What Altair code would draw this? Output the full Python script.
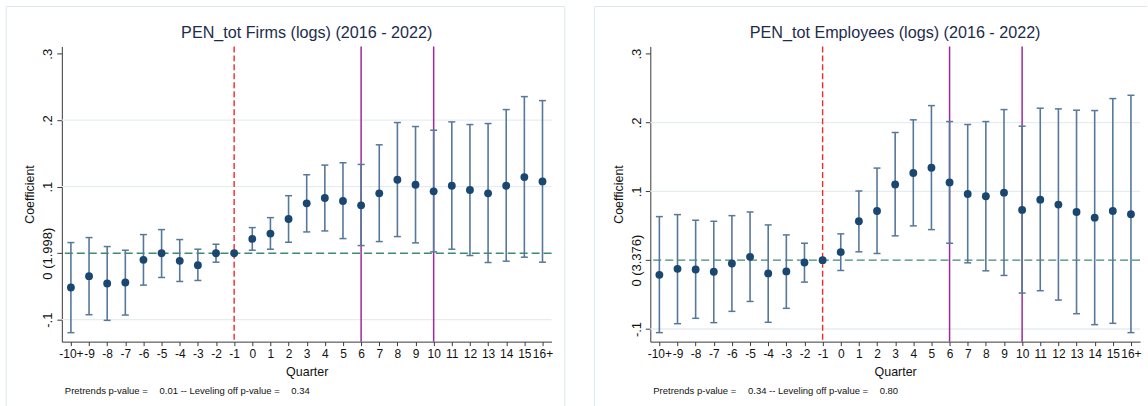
import json

import altair as alt
import pandas as pd

FONT = "'Liberation Sans', Arial, sans-serif"

# ---- data -------------------------------------------------------------
quarters = list(range(-10, 17))
quarter_labels = ["-10+"] + [str(q) for q in range(-9, 16)] + ["16+"]
y_ticks = [-0.1, 0.0, 0.1, 0.2, 0.3]
grid_values = [-0.1, 0.1, 0.2]
event_quarter = [-1]
window_quarters = [6, 10]

firms_title = "PEN_tot Firms (logs) (2016 - 2022)"
firms_base_label = "0 (1.998)"
firms_pvalues = ["0.01", "0.34"]
firms_coef = [-0.0515, -0.0345, -0.0455, -0.044, -0.010, 0.0, -0.0115, -0.018, 0.0, 0.0,
              0.0215, 0.0295, 0.0515, 0.075, 0.083, 0.0785, 0.072, 0.090, 0.1105, 0.103,
              0.093, 0.1015, 0.095, 0.090, 0.1015, 0.1145, 0.108]
firms_lo = [-0.1195, -0.0925, -0.101, -0.093, -0.048, -0.0365, -0.0425, -0.041, -0.0135, None,
            0.0045, 0.006, 0.0165, 0.032, 0.0335, 0.022, 0.0115, 0.0175, 0.025, 0.0155,
            0.002, 0.006, -0.0035, -0.014, -0.012, -0.006, -0.0135]
firms_hi = [0.016, 0.0235, 0.010, 0.0045, 0.028, 0.0355, 0.0205, 0.006, 0.0135, None,
            0.0385, 0.0535, 0.0865, 0.118, 0.1325, 0.136, 0.1335, 0.163, 0.1965, 0.1905,
            0.185, 0.1975, 0.1935, 0.195, 0.216, 0.2355, 0.2295]

employees_title = "PEN_tot Employees (logs) (2016 - 2022)"
employees_base_label = "0 (3.376)"
employees_pvalues = ["0.34", "0.80"]
employees_coef = [-0.0213, -0.0126, -0.0135, -0.0169, -0.0048, 0.0048, -0.0193, -0.0164, -0.0034, 0.0,
                  0.0116, 0.0565, 0.0715, 0.110, 0.1266, 0.1343, 0.113, 0.0961, 0.0928, 0.0981,
                  0.073, 0.0879, 0.0807, 0.070, 0.0618, 0.0715, 0.0667]
employees_lo = [-0.1053, -0.0923, -0.0845, -0.0908, -0.0744, -0.060, -0.0903, -0.070, -0.0319, None,
                -0.015, 0.0121, 0.0097, 0.0353, 0.0498, 0.0444, 0.0246, -0.0039, -0.0155, -0.0222,
                -0.0478, -0.0444, -0.058, -0.0778, -0.0937, -0.0918, -0.1053]
employees_hi = [0.0633, 0.0662, 0.058, 0.0565, 0.0647, 0.070, 0.0512, 0.0367, 0.0246, None,
                0.0382, 0.1005, 0.1338, 0.1855, 0.2039, 0.2246, 0.2014, 0.1971, 0.2014, 0.2188,
                0.1947, 0.2208, 0.2198, 0.2179, 0.2174, 0.2348, 0.2396]

# ---- styling ----------------------------------------------------------
W, H = 491, 296
NAVY = "#1a476f"
BAR = "#56789a"
AXIS = "#3a3a3a"
FRAME = "#dde8ee"
TEXT = "#111111"


def one_row():
    return alt.Data(values=[{}])


def frame_lines(left, right, top, bottom, right_edge):
    lines = [
        alt.Chart(one_row()).mark_rule(color=FRAME, strokeWidth=1).encode(
            x=alt.value(left), x2=alt.value(right), y=alt.value(top)),
        alt.Chart(one_row()).mark_rule(color=FRAME, strokeWidth=1).encode(
            x=alt.value(left), y=alt.value(top), y2=alt.value(bottom)),
    ]
    if right_edge:
        lines.append(alt.Chart(one_row()).mark_rule(color=FRAME, strokeWidth=1).encode(
            x=alt.value(right), y=alt.value(top), y2=alt.value(bottom)))
    return lines


def panel(title, coef, lo, hi, base_label, pvalues, y_domain, frame_left, frame_right, right_edge):
    df = pd.DataFrame({"q": quarters, "coef": coef, "lo": lo, "hi": hi})
    xs = alt.Scale(domain=[-10.5, 16.5], nice=False, zero=False)
    ys = alt.Scale(domain=y_domain, nice=False, zero=False)
    y_labels = ["-.1", base_label, ".1", ".2", ".3"]

    x_axis = alt.Axis(
        values=quarters, labelExpr=f"{json.dumps(quarter_labels)}[datum.value + 10]",
        title="Quarter", tickSize=4, labelPadding=3, labelFontSize=12, labelFont=FONT,
        titleFont=FONT, titleFontSize=12.5, titleFontWeight="normal", titlePadding=5,
        minExtent=19, maxExtent=19, grid=False, domainColor=AXIS, tickColor=AXIS,
        labelColor=TEXT, titleColor=TEXT, labelOverlap=False, labelFlush=False,
        labelBound=False)
    y_axis = alt.Axis(
        values=y_ticks, labelExpr=f"{json.dumps(y_labels)}[round(datum.value * 10) + 1]",
        title="Coefficient", tickSize=5, labelPadding=5, labelAngle=270, labelAlign="center",
        labelBaseline="alphabetic", labelFontSize=13, labelFont=FONT, titleFont=FONT,
        titleFontSize=12.5, titleFontWeight="normal", titleAngle=270, titleBaseline="alphabetic",
        titlePadding=7, minExtent=21, maxExtent=21, grid=False, domainColor=AXIS,
        tickColor=AXIS, labelColor=TEXT, titleColor=TEXT, labelOverlap=False)

    def X(field):
        return alt.X(field, scale=xs, axis=x_axis)

    def Y(field):
        return alt.Y(field, scale=ys, axis=y_axis)

    grid = alt.Chart(pd.DataFrame({"v": grid_values})).mark_rule(
        color="#e5edf0", strokeWidth=1.3).encode(y=Y("v:Q"))
    zero = alt.Chart(pd.DataFrame({"v": [0.0]})).mark_rule(
        color="#3f8a70", strokeDash=[8, 4], strokeWidth=1.4).encode(y=Y("v:Q"))
    event = alt.Chart(pd.DataFrame({"q": event_quarter})).mark_rule(
        color="#ee2a2a", strokeDash=[6, 3], strokeWidth=1.4).encode(x=X("q:Q"))
    windows = alt.Chart(pd.DataFrame({"q": window_quarters})).mark_rule(
        color="#9b2a9e", strokeWidth=1.5).encode(x=X("q:Q"))

    ci = alt.Chart(df).transform_filter("isValid(datum.lo)")
    bars = ci.mark_rule(color=BAR, strokeWidth=1.6).encode(x=X("q:Q"), y=Y("lo:Q"), y2="hi:Q")
    caps_lo = ci.mark_tick(orient="horizontal", size=7, thickness=1.5, color=BAR, opacity=1).encode(
        x=X("q:Q"), y=Y("lo:Q"))
    caps_hi = ci.mark_tick(orient="horizontal", size=7, thickness=1.5, color=BAR, opacity=1).encode(
        x=X("q:Q"), y=Y("hi:Q"))
    points = alt.Chart(df).mark_circle(size=62, color=NAVY, opacity=1).encode(
        x=X("q:Q"), y=Y("coef:Q"))

    heading = alt.Chart(pd.DataFrame({"t": [title]})).mark_text(
        font=FONT, fontSize=16.2, color="#1d2c4c", align="center", baseline="alphabetic").encode(
        x=alt.value(W / 2), y=alt.value(-8), text="t:N")

    note_parts = ["Pretrends p-value =", f"{pvalues[0]} -- Leveling off p-value =", pvalues[1]]
    note_x = [3, 98, 230]
    notes = [
        alt.Chart(pd.DataFrame({"t": [txt]})).mark_text(
            font=FONT, fontSize=9.5, color=TEXT, align="left", baseline="alphabetic").encode(
            x=alt.value(nx), y=alt.value(348.5), text="t:N")
        for txt, nx in zip(note_parts, note_x)
    ]

    layers = frame_lines(frame_left, frame_right, -40, 361, right_edge) + [
        grid, zero, event, windows, bars, caps_lo, caps_hi, points, heading] + notes
    return alt.layer(*layers).properties(width=W, height=H)


left = panel(firms_title, firms_coef, firms_lo, firms_hi, firms_base_label, firms_pvalues,
             [-0.133, 0.311], -55.7, 504.3, True)
right = panel(employees_title, employees_coef, employees_lo, employees_hi, employees_base_label,
              employees_pvalues, [-0.1184, 0.3106], -56, 498, False)

chart = alt.hconcat(left, right, spacing=28).properties(
    padding={"left": 5, "top": 5, "right": 0, "bottom": 0},
    background="white",
).configure_view(stroke=None)

chart.save("out.html", embed_options={"renderer": "svg", "actions": False})
